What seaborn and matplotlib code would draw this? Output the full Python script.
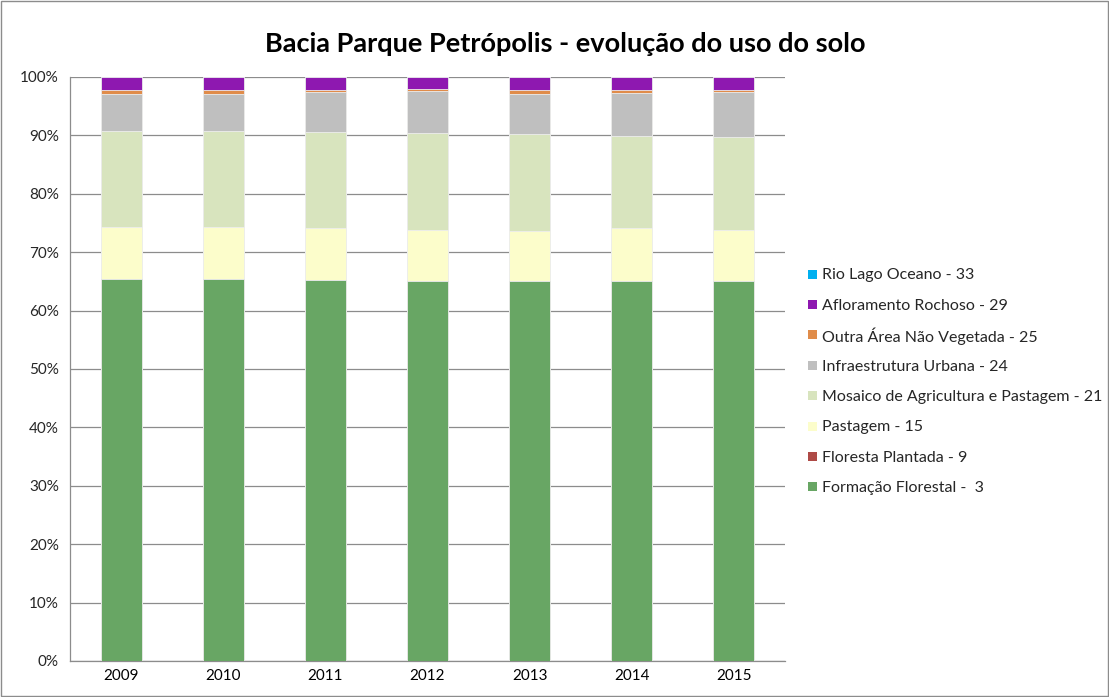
import matplotlib
matplotlib.use("Agg")
import matplotlib.pyplot as plt
import seaborn as sns
import pandas as pd
import numpy as np
from matplotlib.patches import Rectangle
from matplotlib.ticker import FixedLocator, PercentFormatter

years = ["2009", "2010", "2011", "2012", "2013", "2014", "2015"]
formacao_florestal = [65.4, 65.35, 65.2, 65.1, 65.1, 65.1, 65.1]
floresta_plantada = [0.0, 0.0, 0.0, 0.0, 0.0, 0.0, 0.0]
pastagem = [8.9, 9.05, 8.9, 8.65, 8.5, 9.1, 8.65]
mosaico = [16.5, 16.35, 16.5, 16.65, 16.6, 15.7, 15.95]
infraestrutura = [6.3, 6.35, 6.8, 7.2, 6.9, 7.4, 7.7]
outra_area = [0.6, 0.6, 0.4, 0.3, 0.6, 0.4, 0.3]
afloramento = [2.3, 2.3, 2.2, 2.1, 2.3, 2.3, 2.3]
rio_lago = [0.0, 0.0, 0.0, 0.0, 0.0, 0.0, 0.0]

series_names = ["Formação Florestal -  3", "Floresta Plantada - 9", "Pastagem - 15",
                "Mosaico de Agricultura e Pastagem - 21", "Infraestrutura Urbana - 24",
                "Outra Área Não Vegetada - 25", "Afloramento Rochoso - 29", "Rio Lago Oceano - 33"]
series_values = [formacao_florestal, floresta_plantada, pastagem, mosaico,
                 infraestrutura, outra_area, afloramento, rio_lago]
colors = ["#68A664", "#AE4A46", "#FCFDCB", "#D8E4BE", "#BFBFBF", "#E08C4A", "#8E18B0", "#00B0F0"]

sns.set_style("white")
plt.rcParams['font.family'] = ['Lato', 'DejaVu Sans']

W, H = 1109, 697
fig = plt.figure(figsize=(W / 100, H / 100), dpi=100)
ax = fig.add_axes([70/W, 1-661/H, (785-70)/W, (661-77)/H])

vals = np.array(series_values, dtype=float)
totals = vals.sum(axis=0)
pct = vals / totals * 100
cum = np.cumsum(pct, axis=0)

for i in range(len(series_names) - 1, -1, -1):
    df = pd.DataFrame({"year": years, "v": cum[i]})
    sns.barplot(data=df, x="year", y="v", order=years, color=colors[i], width=0.4,
                saturation=1, edgecolor="#EDEDED", linewidth=0.6, ax=ax, zorder=3, errorbar=None)

ax.set_ylim(0, 100)
ax.set_xlim(-0.5, len(years) - 0.5)
ax.yaxis.set_major_locator(FixedLocator(np.arange(0, 101, 10)))
ax.yaxis.set_major_formatter(PercentFormatter(decimals=0))
ax.grid(axis="y", color="#8C8C8C", linewidth=0.9, zorder=0)
ax.set_axisbelow(True)
ax.set_xlabel("")
ax.set_ylabel("")
for s in ["top", "right"]:
    ax.spines[s].set_visible(False)
for s in ["left", "bottom"]:
    ax.spines[s].set_color("#8C8C8C")
    ax.spines[s].set_linewidth(0.9)
ax.xaxis.set_minor_locator(FixedLocator(np.arange(-0.5, len(years), 1.0)))
ax.tick_params(axis="x", which="major", length=0, labelsize=11, pad=6, colors="#000000")
ax.tick_params(axis="x", which="minor", length=5, color="#8C8C8C", width=0.9, direction="out")
ax.tick_params(axis="y", length=5, color="#8C8C8C", width=0.9, labelsize=11, pad=3, direction="out")

fig.text(565/W, 1-44/H, "Bacia Parque Petrópolis - evolução do uso do solo",
         ha="center", va="center", fontsize=19.5, fontweight="bold", color="#000000")

# legend (reverse order, top to bottom)
for k, i in enumerate(range(len(series_names) - 1, -1, -1)):
    yc = 274 + k * 30.4
    fig.patches.append(Rectangle((808/W, 1-(yc+4.5)/H), 9/W, 9/H, transform=fig.transFigure,
                                 facecolor=colors[i], edgecolor="none"))
    fig.text(822/W, 1-yc/H, series_names[i], ha="left", va="center_baseline", fontsize=11.5)

fig.patches.append(Rectangle((0.001, 0.001), 0.998, 0.998, transform=fig.transFigure,
                             fill=False, edgecolor="#8C8C8C", linewidth=1))

fig.savefig("out.png", dpi=100)
